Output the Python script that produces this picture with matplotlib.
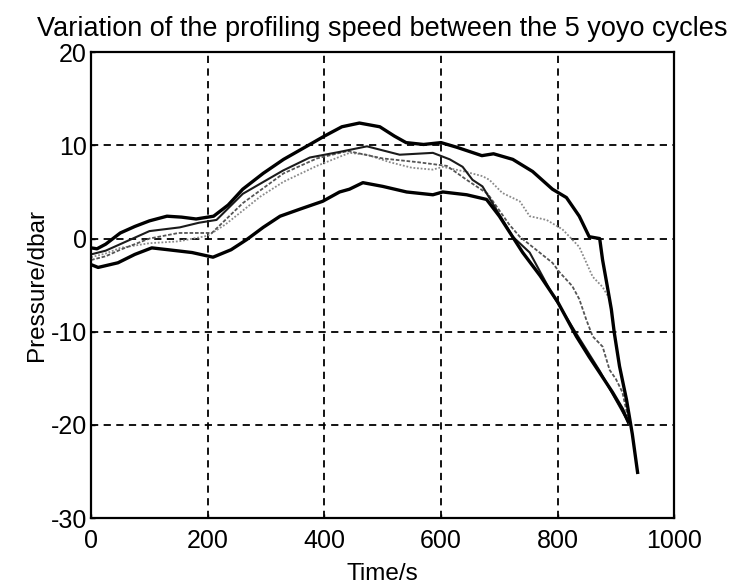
import matplotlib
matplotlib.use("Agg")
import matplotlib.pyplot as plt

plt.rcParams['font.family'] = ['Liberation Sans', 'DejaVu Sans']
plt.rcParams['axes.unicode_minus'] = False

title = "Variation of the profiling speed between the 5 yoyo cycles"
xlabel = "Time/s"
ylabel = "Pressure/dbar"
xticks = [0, 200, 400, 600, 800, 1000]
yticks = [-30, -20, -10, 0, 10, 20]

# cycle A (thick black, highest)
a_t = [0, 10, 25, 50, 75, 100, 130, 155, 180, 210, 235, 260, 295, 330, 375, 400, 430, 460, 495, 520,
       540, 570, 600, 627, 670, 690, 723, 757, 791, 815, 837, 854, 872, 877, 885, 892, 897, 906, 918, 928, 937]
a_p = [-1.0, -1.1, -0.6, 0.6, 1.3, 1.9, 2.4, 2.3, 2.1, 2.4, 3.6, 5.3, 7.0, 8.5, 10.1, 11.0, 12.0, 12.4, 12.0, 11.0,
       10.3, 10.1, 10.3, 9.8, 8.9, 9.1, 8.5, 7.2, 5.3, 4.4, 2.4, 0.2, 0.0, -2.3, -5.1, -7.6, -10.1, -13.7, -17.3, -21.0, -25.1]

# cycle B (thin dark solid)
b_t = [0, 25, 50, 100, 152, 185, 215, 260, 329, 375, 426, 473, 529, 586, 615, 637, 654, 671, 695, 723,
       752, 791, 832, 872, 921]
b_p = [-1.7, -1.3, -0.6, 0.8, 1.2, 1.7, 2.0, 4.8, 7.3, 8.7, 9.3, 9.9, 9.0, 9.2, 8.5, 7.7, 6.3, 5.6, 3.1, 0.2,
       -1.5, -6.0, -10.2, -14.2, -19.7]

# cycle C (light grey dotted)
c_t = [0, 25, 50, 100, 150, 200, 230, 260, 290, 330, 387, 443, 473, 512, 550, 586, 603, 640, 671, 683,
       705, 735, 752, 781, 808, 837, 860, 877, 889]
c_p = [-2.0, -1.6, -1.0, -0.5, -0.3, 0.3, 1.5, 3.0, 4.5, 6.1, 7.8, 9.2, 9.0, 8.2, 7.6, 7.4, 7.7, 7.2, 6.7, 6.3,
       4.9, 4.0, 2.4, 2.0, 1.0, -0.9, -4.1, -5.2, -6.5]

# cycle D (darker grey dotted)
d_t = [0, 25, 50, 100, 150, 207, 260, 330, 387, 440, 500, 560, 610, 644, 680, 717, 735, 791, 803, 825,
       837, 849, 860, 877, 889, 900, 911, 920]
d_p = [-2.3, -1.9, -1.2, 0.0, 0.6, 0.6, 3.8, 7.0, 8.6, 9.4, 8.6, 8.2, 7.8, 6.3, 4.8, 1.5, 0.2, -2.6, -3.6, -5.1,
       -6.5, -8.7, -10.5, -11.6, -14.1, -15.1, -16.5, -19.1]

# cycle E (thick black, lowest)
e_t = [0, 12, 46, 75, 104, 132, 173, 209, 240, 267, 295, 324, 360, 397, 426, 443, 466, 500, 541, 586,
       603, 644, 678, 700, 740, 770, 800, 832, 854, 872, 894, 911, 921]
e_p = [-2.8, -3.1, -2.6, -1.7, -1.0, -1.2, -1.5, -2.0, -1.2, -0.1, 1.2, 2.4, 3.2, 4.0, 5.0, 5.3, 6.0, 5.6, 5.0, 4.7,
       5.0, 4.7, 4.2, 2.4, -1.5, -4.0, -6.8, -10.5, -12.7, -14.4, -16.5, -18.3, -19.7]

fig = plt.figure(figsize=(7.29, 5.87), dpi=100)
ax = fig.add_axes([0.125, 0.1175, 0.8, 0.7935])

ax.plot(c_t, c_p, color='#8a8a8a', lw=1.3, ls=(0, (1, 1)))
ax.plot(d_t, d_p, color='#555555', lw=1.3, ls=(0, (2, 1)))
ax.plot(b_t, b_p, color='#1a1a1a', lw=1.5)
ax.plot(a_t, a_p, color='black', lw=2.4)
ax.plot(e_t, e_p, color='black', lw=2.4)

ax.set_xlim(0, 1000)
ax.set_ylim(-30, 20)
ax.set_xticks(xticks)
ax.set_yticks(yticks)
ax.grid(True, color='black', ls=(0, (4, 3)), lw=1.3)
for s in ax.spines.values():
    s.set_linewidth(1.6)
ax.tick_params(direction='in', length=3, width=1.0, labelsize=18)
ax.tick_params(axis='x', pad=8)
ax.tick_params(axis='y', pad=3)

ax.set_title(title, fontsize=19.5, pad=12)
ax.set_xlabel(xlabel, fontsize=17.5, labelpad=7)
ax.set_ylabel(ylabel, fontsize=17.5, labelpad=2)

fig.savefig("out.png", dpi=100)
